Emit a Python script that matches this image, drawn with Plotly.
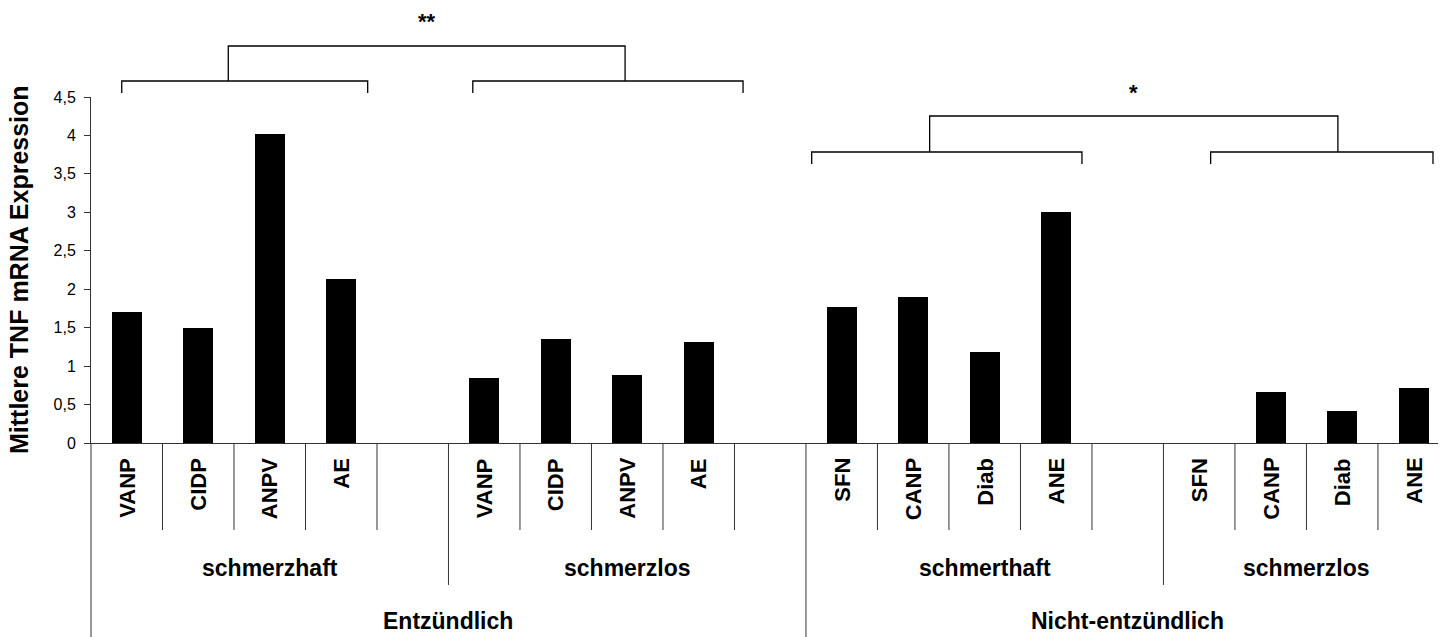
import plotly.graph_objects as go

# ---- data ----
cat_labels = ["VANP", "CIDP", "ANPV", "AE", "",
              "VANP", "CIDP", "ANPV", "AE", "",
              "SFN", "CANP", "Diab", "ANE", "",
              "SFN", "CANP", "Diab", "ANE"]
values = [1.70, 1.50, 4.02, 2.13, None,
          0.84, 1.35, 0.88, 1.31, None,
          1.77, 1.90, 1.18, 3.00, None,
          0.0, 0.66, 0.42, 0.71]
group_labels = ["schmerzhaft", "schmerzlos", "schmerthaft", "schmerzlos"]
group_spans = [(0, 5), (5, 5), (10, 5), (15, 4)]
top_labels = ["Entzündlich", "Nicht-entzündlich"]
top_spans = [(0, 10), (10, 9)]
y_ticks = [0, 0.5, 1, 1.5, 2, 2.5, 3, 3.5, 4, 4.5]
y_title = "Mittlere TNF mRNA Expression"

# significance brackets: (left group x0,x1), (right group x0,x1), top x0,x1, label
brackets = [
    dict(l=(-0.07, 3.37), r=(4.84, 8.62), top=(1.42, 6.97), label="**"),
    dict(l=(9.58, 13.36), r=(15.16, 18.27), top=(11.23, 16.94), label="*"),
]

# ---- geometry ----
W, H = 1444, 637
ML, MR, MT, MB = 91, 6, 97, 194
XR = (-0.5, 18.34)
plot_h = H - MT - MB


def px(v):
    return (v - XR[0]) / (XR[1] - XR[0])


def py(pixel_y):
    return (H - MB - pixel_y) / plot_h


FONT = "Liberation Sans, Arial, sans-serif"
LINE = "#333333"

x = list(range(len(cat_labels)))
fig = go.Figure(go.Bar(x=x, y=values, width=0.42, marker=dict(color="black", line=dict(width=0))))

shapes = []
annotations = []

# category separators
for k in range(len(cat_labels)):
    bottom = 530
    if k in (0, 10):
        bottom = 640
    elif k in (5, 15):
        bottom = 585
    shapes.append(dict(type="line", xref="paper", yref="paper", x0=px(k - 0.5), x1=px(k - 0.5),
                       y0=0, y1=py(bottom), line=dict(color=LINE, width=1)))

for k, lab in enumerate(cat_labels):
    if lab:
        annotations.append(dict(x=k, xref="x", y=py(456), yref="paper", text="<b>%s</b>" % lab,
                                textangle=-90, showarrow=False, xanchor="center", yanchor="top",
                                font=dict(family=FONT, size=22, color="black")))

for lab, (s, n) in zip(group_labels, group_spans):
    annotations.append(dict(x=s + (n - 1) / 2 if n == 4 else s + 2, xref="x", y=py(568), yref="paper",
                            text="<b>%s</b>" % lab, showarrow=False, xanchor="center", yanchor="middle",
                            font=dict(family=FONT, size=23, color="black")))

for lab, (s, n) in zip(top_labels, top_spans):
    annotations.append(dict(x=s + n / 2 - 0.5, xref="x", y=py(621), yref="paper",
                            text="<b>%s</b>" % lab, showarrow=False, xanchor="center", yanchor="middle",
                            font=dict(family=FONT, size=23, color="black")))

# brackets
bracket_ys = [(81, 93, 46, 22), (152, 164, 116, 92)]
for b, (ylow, ydrop, ytop, ylab) in zip(brackets, bracket_ys):
    for (a0, a1) in (b["l"], b["r"]):
        path = "M %f,%f L %f,%f L %f,%f L %f,%f" % (
            px(a0), py(ydrop), px(a0), py(ylow), px(a1), py(ylow), px(a1), py(ydrop))
        shapes.append(dict(type="path", xref="paper", yref="paper", path=path,
                           line=dict(color="black", width=1.3)))
    t0, t1 = b["top"]
    path = "M %f,%f L %f,%f L %f,%f L %f,%f" % (
        px(t0), py(ylow), px(t0), py(ytop), px(t1), py(ytop), px(t1), py(ylow))
    shapes.append(dict(type="path", xref="paper", yref="paper", path=path,
                       line=dict(color="black", width=1.3)))
    annotations.append(dict(x=px((t0 + t1) / 2), xref="paper", y=py(ylab), yref="paper",
                            text="<b>%s</b>" % b["label"], showarrow=False,
                            xanchor="center", yanchor="middle",
                            font=dict(family=FONT, size=22, color="black")))

annotations.append(dict(x=(19 - ML) / (W - ML - MR), xref="paper", y=py(270), yref="paper",
                        text="<b>%s</b>" % y_title, textangle=-90, showarrow=False,
                        xanchor="center", yanchor="middle",
                        font=dict(family=FONT, size=25, color="black")))

fig.update_layout(
    width=W, height=H,
    margin=dict(l=ML, r=MR, t=MT, b=MB, pad=0),
    paper_bgcolor="white", plot_bgcolor="white",
    separators=",.",
    showlegend=False,
    shapes=shapes, annotations=annotations,
    xaxis=dict(range=list(XR), showticklabels=False, showgrid=False, zeroline=False,
               showline=True, linecolor=LINE, linewidth=1, ticks=""),
    yaxis=dict(range=[0, 4.5], tickvals=y_ticks, showgrid=False, zeroline=False,
               showline=True, linecolor=LINE, linewidth=1, ticks="outside", ticklen=6,
               tickcolor=LINE, ticklabelstandoff=5,
               tickfont=dict(family=FONT, size=16, color="black")),
    bargap=0,
)

fig.write_html("out.html", config={"displayModeBar": False},
               post_script="document.body.style.margin='0';document.body.style.overflow='hidden';")
